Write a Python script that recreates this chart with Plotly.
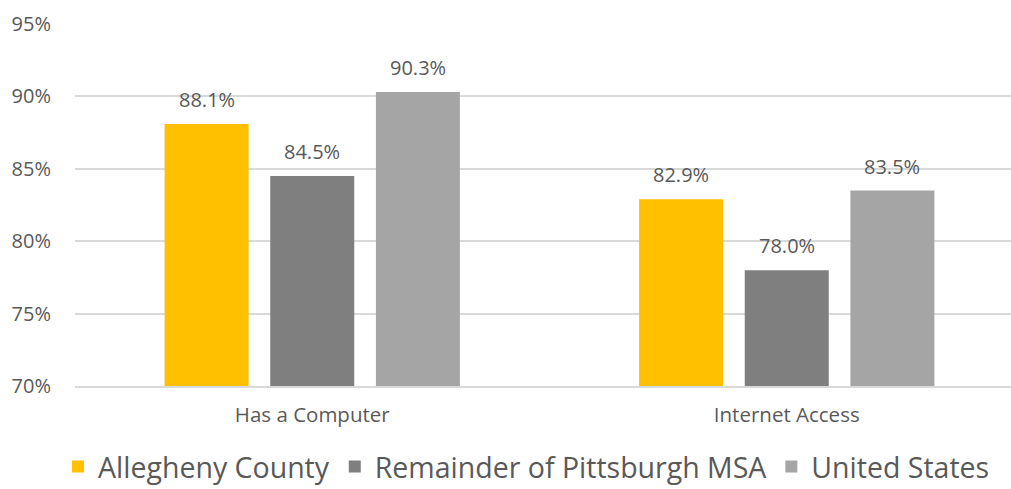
import plotly.graph_objects as go

categories = ["Has a Computer", "Internet Access"]
series_names = ["Allegheny County", "Remainder of Pittsburgh MSA", "United States"]
allegheny = [88.1, 82.9]
remainder = [84.5, 78.0]
united_states = [90.3, 83.5]
series_values = [allegheny, remainder, united_states]
colors = ["#FFC000", "#7F7F7F", "#A5A5A5"]
y_ticks = [70, 75, 80, 85, 90, 95]
y_tick_labels = ["70%", "75%", "80%", "85%", "90%", "95%"]

BARGAP = 0.332
BARGROUPGAP = 0.205
FONT = "Open Sans"
TEXT_COLOR = "#595959"

fig = go.Figure()
for name, vals, col in zip(series_names, series_values, colors):
    fig.add_trace(go.Bar(
        x=categories, y=vals, name=name,
        marker=dict(color=col, line=dict(width=0)),
    ))

# data labels placed above each bar, positions derived from the bar layout
n = len(series_values)
slot = (1 - BARGAP) / n
for si, vals in enumerate(series_values):
    off = (si - (n - 1) / 2) * slot
    for ci, v in enumerate(vals):
        fig.add_annotation(
            x=ci + off, y=v, xref="x", yref="y",
            text=f"{v:.1f}%", showarrow=False,
            yanchor="bottom", yshift=9,
            font=dict(family=FONT, size=20, color=TEXT_COLOR),
        )

fig.update_layout(
    width=1011, height=489,
    margin=dict(l=75, r=0, t=24, b=102.5, autoexpand=False),
    paper_bgcolor="white", plot_bgcolor="white",
    barmode="group", bargap=BARGAP, bargroupgap=BARGROUPGAP,
    font=dict(family=FONT, color=TEXT_COLOR),
    showlegend=True,
    legend=dict(
        orientation="h", xref="container", yref="container",
        x=0.0574, xanchor="left", y=0.045, yanchor="middle",
        font=dict(family=FONT, size=28.5, color=TEXT_COLOR),
        itemwidth=30, traceorder="normal",
    ),
    xaxis=dict(
        type="category", range=[-0.5, 1.4726], automargin=False,
        showgrid=False, showline=True, linecolor="#D9D9D9", linewidth=1.5,
        ticks="", tickfont=dict(family=FONT, size=20.5, color=TEXT_COLOR),
        ticklabelstandoff=10,
        fixedrange=True,
    ),
    yaxis=dict(
        range=[70, 95], tickvals=y_ticks, ticktext=y_tick_labels,
        automargin=False, fixedrange=True,
        showgrid=True, gridcolor="#D9D9D9", gridwidth=1.5,
        zeroline=False, showline=False, ticks="",
        tickfont=dict(family=FONT, size=20, color=TEXT_COLOR),
        ticklabelstandoff=23,
    ),
)

# remove the default page margin so the figure fills the window exactly
fig.write_html(
    "out.html",
    config={"displayModeBar": False},
    post_script="document.body.style.margin='0px';",
)
